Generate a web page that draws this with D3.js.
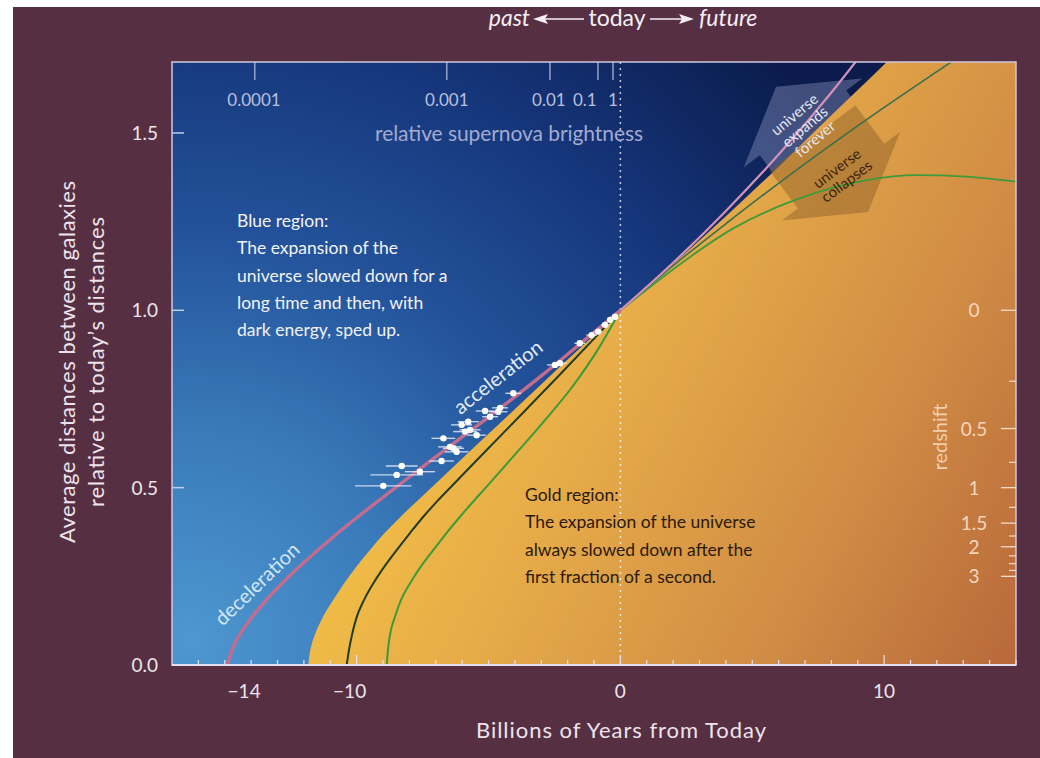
<!DOCTYPE html>
<html>
<head>
<meta charset="utf-8">
<script src="https://cdn.jsdelivr.net/npm/d3@7"></script>
<style>
  body { margin: 0; background: #fff; }
  svg { display: block; font-family: Lato, 'Open Sans', sans-serif; }
</style>
</head>
<body>
<svg id="chart" width="1040" height="758"></svg>
<script>
// scale factor a(t) curves, t = billions of years from today
const pinkPast = [[-14.9,0],[-14.7,0.048],[-14.5,0.077],[-14.0,0.132],[-13.5,0.177],[-12.9,0.225],[-12,0.289],[-11,0.354],[-10,0.415],[-9,0.473],[-8,0.530],[-7,0.587],[-6,0.643],[-5,0.699],[-4,0.756],[-3,0.815],[-2,0.876],[-1,0.938],[0,1]];
const pinkFuture = [[0,1],[2,1.134],[4,1.280],[6,1.439],[8,1.614],[9,1.708],[9.5,1.756]];
const darkPast = [[-10.377,0],[-10.29,0.042],[-10.176,0.085],[-9.998,0.135],[-9.721,0.183],[-9.369,0.230],[-8.963,0.276],[-8.482,0.324],[-7.977,0.372],[-7.473,0.418],[-6.916,0.464],[-6.336,0.509],[-5.069,0.606],[-3.682,0.712],[-2.29,0.819],[-0.899,0.928],[0,1]];
const darkFuture = [[0,1],[2,1.126],[4,1.244],[6,1.358],[8,1.467],[10,1.572],[12,1.673],[13,1.723]];
const greenPast = [[-8.861,0],[-8.793,0.056],[-8.698,0.099],[-8.546,0.136],[-8.319,0.183],[-7.977,0.230],[-7.56,0.278],[-7.094,0.324],[-6.593,0.372],[-6.081,0.418],[-5.577,0.461],[-5.069,0.503],[-4.061,0.588],[-2.923,0.685],[-1.786,0.788],[-0.773,0.899],[0,1]];
const greenFuture = [[0,1],[1.37,1.08],[4.28,1.231],[6.81,1.316],[9.34,1.367],[11.23,1.381],[13.1,1.377],[15,1.363]];
const goldEdge = [[-11.833,0],[-11.788,0.028],[-11.712,0.056],[-11.617,0.079],[-11.515,0.099],[-11.314,0.130],[-11.011,0.169],[-10.707,0.204],[-10.377,0.240],[-9.987,0.279],[-9.494,0.324],[-9.001,0.367],[-8.482,0.407],[-7.219,0.496],[-5.956,0.585],[-4.69,0.673],[-3.428,0.761],[-2.165,0.850],[-0.899,0.937],[0,1],[2,1.13],[4,1.265],[6,1.405],[8,1.55],[10.1,1.7],[12,1.84],[15,2.06]];

// supernovae: time, scale factor, error half-width (Gyr)
const snTime = [-8.99,-8.48,-8.29,-7.60,-6.78,-6.71,-6.46,-6.33,-6.21,-6.02,-5.89,-5.77,-5.70,-5.45,-5.13,-4.94,-4.63,-4.56,-4.06,-2.48,-2.29,-1.54,-1.09,-0.84,-0.58,-0.39,-0.20];
const snScale = [0.505,0.536,0.561,0.545,0.575,0.639,0.615,0.611,0.601,0.677,0.658,0.686,0.663,0.648,0.716,0.700,0.714,0.725,0.766,0.846,0.851,0.907,0.930,0.940,0.959,0.973,0.982];
const snErr = [1.07,1.0,0.6,0.57,0.47,0.45,0.45,0.4,0.45,0.4,0.45,0.4,0.4,0.35,0.35,0.3,0.35,0.3,0.3,0.3,0.25,0.2,0.2,0.15,0.15,0.12,0.1];

const yearTicks = [-14, -10, 0, 10];
const yearMinor = d3.range(-16, 16);
const distTicks = [0, 0.5, 1.0, 1.5];
const redshiftMajor = [0, 0.5, 1, 1.5, 2, 3];
const redshiftMinor = [0.25, 0.75, 1.25, 1.75, 2.25, 2.5, 2.75];
const brightLabels = ['0.0001', '0.001', '0.01', '0.1', '1'];
const brightTickYears = [-13.86, -6.58, -2.67, -0.85, -0.28];
const brightLabelYears = [-13.89, -6.58, -2.71, -1.35, -0.28];

const blueText = ['Blue region:', 'The expansion of the', 'universe slowed down for a', 'long time and then, with', 'dark energy, sped up.'];
const goldText = ['Gold region:', 'The expansion of the universe', 'always slowed down after the', 'first fraction of a second.'];

const svg = d3.select('#chart');
const x = d3.scaleLinear().domain([-17, 15]).range([172, 1016]);
const y = d3.scaleLinear().domain([0, 1.7]).range([665, 62]);
const W = x.range(), H = y.range();

const defs = svg.append('defs');
defs.append('clipPath').attr('id', 'plotClip')
  .append('rect').attr('x', W[0]).attr('y', H[1]).attr('width', W[1] - W[0]).attr('height', H[0] - H[1]);

const blueGrad = defs.append('radialGradient').attr('id', 'blueGrad')
  .attr('gradientUnits', 'userSpaceOnUse').attr('cx', 190).attr('cy', 640).attr('r', 820);
[[0, '#4e97d0'], [0.25, '#3a7bbb'], [0.5, '#23529a'], [0.75, '#15357a'], [1, '#0b1c4c']].forEach(s =>
  blueGrad.append('stop').attr('offset', s[0]).attr('stop-color', s[1]));

const goldGrad = defs.append('linearGradient').attr('id', 'goldGrad')
  .attr('gradientUnits', 'userSpaceOnUse').attr('x1', 330).attr('y1', 300).attr('x2', 1016).attr('y2', 665);
[[0, '#f8c945'], [0.35, '#e8ad48'], [0.7, '#d18d45'], [1, '#b8683a']].forEach(s =>
  goldGrad.append('stop').attr('offset', s[0]).attr('stop-color', s[1]));

// page background
svg.append('rect').attr('x', 13).attr('y', 7).attr('width', 1027).attr('height', 751).attr('fill', '#572f42');

const plot = svg.append('g').attr('clip-path', 'url(#plotClip)');
plot.append('rect').attr('x', W[0]).attr('y', H[1]).attr('width', W[1] - W[0]).attr('height', H[0] - H[1])
  .attr('fill', 'url(#blueGrad)');

function arrowShape(t, a, dir, headLen, headHalf, bodyHalf, bodyLen) {
  const tx = x(t), ty = y(a), dx = dir[0], dy = dir[1], px = -dy, py = dx;
  const mx = tx - dx * headLen, my = ty - dy * headLen;
  return [[tx, ty], [mx + px * headHalf, my + py * headHalf], [mx + px * bodyHalf, my + py * bodyHalf],
    [mx + px * bodyHalf - dx * bodyLen, my + py * bodyHalf - dy * bodyLen],
    [mx - px * bodyHalf - dx * bodyLen, my - py * bodyHalf - dy * bodyLen],
    [mx - px * bodyHalf, my - py * bodyHalf], [mx - px * headHalf, my - py * headHalf]];
}

// blue "expands forever" arrow (under the gold region)
plot.append('polygon')
  .attr('points', arrowShape(5.9, 1.63, [-0.6, -0.8], 45, 74, 54, 30).join(' '))
  .attr('fill', 'rgba(160,170,212,0.36)');

const area = d3.area().x(d => x(d[0])).y0(y(0)).y1(d => y(d[1])).curve(d3.curveMonotoneX);
plot.append('path').attr('d', area(goldEdge)).attr('fill', 'url(#goldGrad)');

// brown "collapses" arrow
plot.append('polygon')
  .attr('points', arrowShape(9.39, 1.277, [0.6, 0.8], 45, 74, 54, 48).join(' '))
  .attr('fill', 'rgba(130,88,38,0.42)');

// today line
plot.append('line').attr('x1', x(0)).attr('x2', x(0)).attr('y1', H[1]).attr('y2', H[0])
  .attr('stroke', 'rgba(255,255,255,0.75)').attr('stroke-width', 1.5).attr('stroke-dasharray', '2,4');

const line = d3.line().x(d => x(d[0])).y(d => y(d[1])).curve(d3.curveMonotoneX);
plot.append('path').attr('d', line(greenFuture)).attr('fill', 'none').attr('stroke', '#3f9a3c').attr('stroke-width', 1.8);
plot.append('path').attr('d', line(darkFuture)).attr('fill', 'none').attr('stroke', '#3a6f4e').attr('stroke-width', 1.6);
plot.append('path').attr('d', line(darkPast)).attr('fill', 'none').attr('stroke', '#223c20').attr('stroke-width', 2);
plot.append('path').attr('d', line(greenPast)).attr('fill', 'none').attr('stroke', '#3c9a3a').attr('stroke-width', 2);
plot.append('path').attr('d', line(pinkPast)).attr('fill', 'none').attr('stroke', '#c46c8e').attr('stroke-width', 3.4);
plot.append('path').attr('d', line(pinkFuture)).attr('fill', 'none').attr('stroke', '#d592b8').attr('stroke-width', 2.2);

// supernova data
const sn = snTime.map((t, i) => ({ t, a: snScale[i], e: snErr[i] }));
plot.selectAll('line.err').data(sn).enter().append('line').attr('class', 'err')
  .attr('x1', d => x(d.t - d.e)).attr('x2', d => x(d.t + d.e)).attr('y1', d => y(d.a)).attr('y2', d => y(d.a))
  .attr('stroke', 'rgba(235,240,255,0.8)').attr('stroke-width', 1.4);
plot.selectAll('circle.sn').data(sn).enter().append('circle').attr('class', 'sn')
  .attr('cx', d => x(d.t)).attr('cy', d => y(d.a)).attr('r', 3.2).attr('fill', '#fff');

// top brightness scale
plot.selectAll('line.bt').data(brightTickYears).enter().append('line')
  .attr('x1', d => x(d)).attr('x2', d => x(d)).attr('y1', H[1]).attr('y2', H[1] + 18)
  .attr('stroke', '#b7bedd').attr('stroke-width', 1.2);
svg.selectAll('text.bl').data(brightLabels).enter().append('text')
  .attr('x', (d, i) => x(brightLabelYears[i])).attr('y', 106).attr('text-anchor', 'middle')
  .attr('font-size', 17).attr('fill', '#b9c0de').text(d => d);
svg.append('text').attr('x', 509).attr('y', 141).attr('text-anchor', 'middle')
  .attr('font-size', 21).attr('fill', '#a3aad0').attr('textLength', 268).text('relative supernova brightness');

// region texts
svg.append('g').selectAll('text').data(blueText).enter().append('text')
  .attr('x', 237).attr('y', (d, i) => 227 + i * 27.3).attr('font-size', 17.5).attr('fill', '#f2f3f8').text(d => d);
svg.append('g').selectAll('text').data(goldText).enter().append('text')
  .attr('x', 525).attr('y', (d, i) => 501 + i * 27.3).attr('font-size', 17.5).attr('fill', '#2b1a08').text(d => d);

svg.append('text').attr('transform', 'translate(257,584) rotate(-44)').attr('text-anchor', 'middle')
  .attr('dy', '0.35em').attr('font-size', 20).attr('fill', '#d3e6f6').text('deceleration');
svg.append('text').attr('transform', 'translate(498,377) rotate(-38)').attr('text-anchor', 'middle')
  .attr('dy', '0.35em').attr('font-size', 20).attr('fill', '#e2eaf5').text('acceleration');

const blueArrowText = ['universe', 'expands', 'forever'];
svg.append('g').attr('transform', 'translate(805,127) rotate(-40)').selectAll('text').data(blueArrowText).enter()
  .append('text').attr('y', (d, i) => (i - 1) * 16 + 5).attr('text-anchor', 'middle')
  .attr('font-size', 15).attr('fill', '#e6e8f2').text(d => d);
const brownArrowText = ['universe', 'collapses'];
svg.append('g').attr('transform', 'translate(842,175) rotate(-37)').selectAll('text').data(brownArrowText).enter()
  .append('text').attr('y', (d, i) => (i - 0.5) * 16 + 5).attr('text-anchor', 'middle')
  .attr('font-size', 15).attr('fill', '#3a2410').text(d => d);

// axes
const axisCol = '#e6def0';
svg.append('rect').attr('x', W[0]).attr('y', H[1]).attr('width', W[1] - W[0]).attr('height', H[0] - H[1])
  .attr('fill', 'none').attr('stroke', '#cfc8e0').attr('stroke-width', 1.5);
svg.append('line').attr('x1', W[0]).attr('x2', W[1]).attr('y1', H[0]).attr('y2', H[0])
  .attr('stroke', axisCol).attr('stroke-width', 2);
svg.selectAll('line.xm').data(yearMinor).enter().append('line')
  .attr('x1', d => x(d)).attr('x2', d => x(d)).attr('y1', H[0])
  .attr('y2', d => H[0] - (d % 10 === 0 ? 10 : 5)).attr('stroke', axisCol).attr('stroke-width', 1.2);
svg.selectAll('text.xl').data(yearTicks).enter().append('text')
  .attr('x', d => x(d) - (d < 0 ? 7 : 0)).attr('y', 698).attr('text-anchor', 'middle').attr('font-size', 19)
  .attr('fill', '#ece4ec').text(d => d < 0 ? '\u2212' + Math.abs(d) : d);
svg.append('text').attr('x', 621).attr('y', 738).attr('text-anchor', 'middle').attr('font-size', 22)
  .attr('fill', '#ece4ec').attr('textLength', 290).text('Billions of Years from Today');

svg.selectAll('line.yt').data(distTicks.slice(1)).enter().append('line')
  .attr('x1', W[0]).attr('x2', W[0] + 12).attr('y1', d => y(d)).attr('y2', d => y(d))
  .attr('stroke', '#c3cbe2').attr('stroke-width', 1.5);
svg.selectAll('text.yl').data(distTicks).enter().append('text')
  .attr('x', 158).attr('y', d => y(d) + 7).attr('text-anchor', 'end').attr('font-size', 19)
  .attr('fill', '#ece4ec').text(d => d.toFixed(1));
const yTitle = svg.append('text').attr('transform', 'translate(0,362) rotate(-90)')
  .attr('text-anchor', 'middle').attr('font-size', 22).attr('fill', '#ece4ec');
yTitle.append('tspan').attr('x', 0).attr('y', 75).attr('textLength', 362).text('Average distances between galaxies');
yTitle.append('tspan').attr('x', 0).attr('y', 104).attr('textLength', 290).text('relative to today\u2019s distances');

// redshift axis: scale factor = 1 / (1 + z)
const zy = z => y(1 / (1 + z));
svg.selectAll('line.zM').data(redshiftMajor).enter().append('line')
  .attr('x1', W[1]).attr('x2', W[1] - 15).attr('y1', zy).attr('y2', zy)
  .attr('stroke', '#f2dccc').attr('stroke-width', 1.3);
svg.selectAll('line.zm').data(redshiftMinor).enter().append('line')
  .attr('x1', W[1]).attr('x2', W[1] - 7).attr('y1', zy).attr('y2', zy)
  .attr('stroke', '#f2dccc').attr('stroke-width', 1.2);
svg.selectAll('text.zl').data(redshiftMajor).enter().append('text')
  .attr('x', 974).attr('y', d => zy(d) + 7).attr('text-anchor', 'middle').attr('font-size', 19)
  .attr('fill', '#f3d6bc').text(d => d);
svg.append('text').attr('transform', 'translate(947,437) rotate(-90)').attr('text-anchor', 'middle')
  .attr('font-size', 20).attr('fill', '#f1cfae').text('redshift');

// header: past <- today -> future
const head = svg.append('g').attr('fill', '#f4eef4');
head.append('text').attr('x', 530).attr('y', 26).attr('text-anchor', 'end').attr('font-size', 23)
  .attr('font-style', 'italic').text('past');
head.append('text').attr('x', 617).attr('y', 26).attr('text-anchor', 'middle').attr('font-size', 23).text('today');
head.append('text').attr('x', 699).attr('y', 26).attr('text-anchor', 'start').attr('font-size', 23)
  .attr('font-style', 'italic').text('future');
head.append('line').attr('x1', 545).attr('x2', 584).attr('y1', 19).attr('y2', 19).attr('stroke', '#f4eef4').attr('stroke-width', 1.5);
head.append('path').attr('d', 'M533,19 L548,14 L545,19 L548,24 Z');
head.append('line').attr('x1', 650).attr('x2', 683).attr('y1', 19).attr('y2', 19).attr('stroke', '#f4eef4').attr('stroke-width', 1.5);
head.append('path').attr('d', 'M694,19 L679,14 L682,19 L679,24 Z');
</script>
</body>
</html>
